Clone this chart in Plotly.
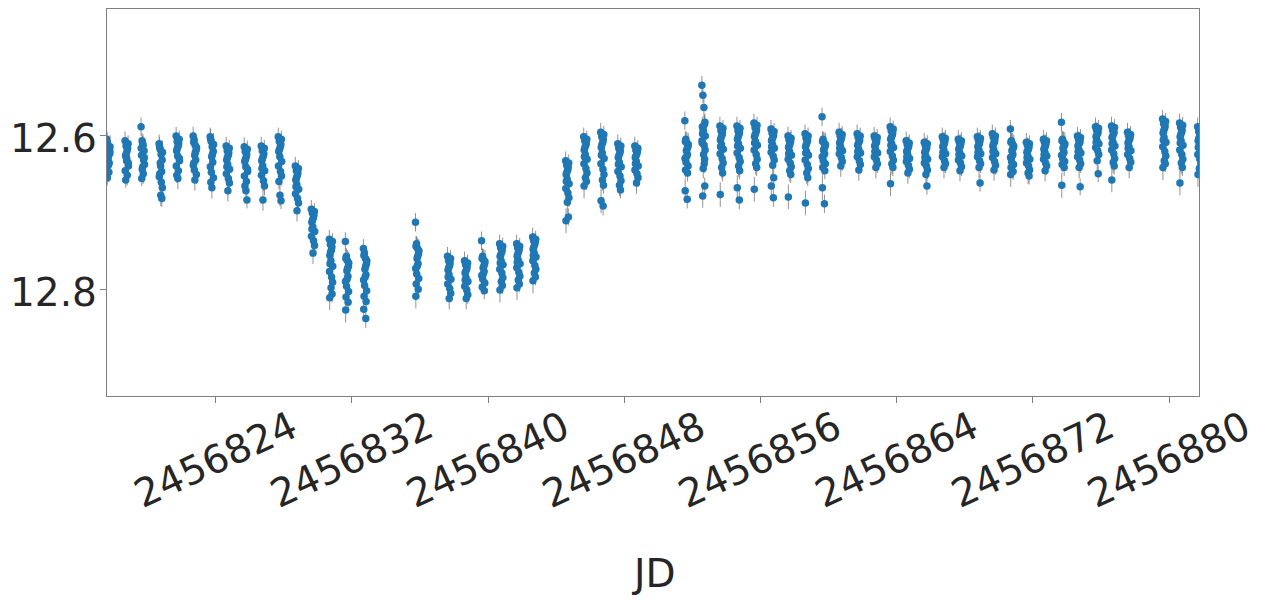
import plotly.graph_objects as go

# ---------------- data ----------------
NIGHT_JD = [
    2456817.70, 2456818.78, 2456819.72, 2456820.78, 2456821.78, 2456822.78,
    2456823.78, 2456824.72, 2456825.78, 2456826.78, 2456827.78, 2456828.78,
    2456829.72, 2456830.78, 2456831.72, 2456832.78, 2456835.84, 2456837.72,
    2456838.72, 2456839.72, 2456840.78, 2456841.78, 2456842.72, 2456844.66,
    2456845.72, 2456846.72, 2456847.72, 2456848.72, 2456851.66, 2456852.66,
    2456853.72, 2456854.72, 2456855.72, 2456856.72, 2456857.72, 2456858.72,
    2456859.72, 2456860.72, 2456861.78, 2456862.78, 2456863.72, 2456864.66,
    2456865.72, 2456866.78, 2456867.72, 2456868.84, 2456869.72, 2456870.78,
    2456871.72, 2456872.72, 2456873.78, 2456874.72, 2456875.78, 2456876.72,
    2456877.66, 2456879.72, 2456880.72, 2456881.78,
]

NIGHT_MAGS = [
    [12.605, 12.612, 12.618, 12.624, 12.609, 12.630, 12.636, 12.615, 12.642, 12.627, 12.648, 12.621, 12.655, 12.639],
    [12.607, 12.614, 12.620, 12.611, 12.627, 12.633, 12.617, 12.640, 12.646, 12.624, 12.652, 12.636, 12.658, 12.630],
    [12.589, 12.607, 12.613, 12.620, 12.626, 12.610, 12.632, 12.638, 12.617, 12.644, 12.650, 12.629, 12.656, 12.641],
    [12.611, 12.618, 12.625, 12.632, 12.615, 12.640, 12.647, 12.622, 12.654, 12.636, 12.661, 12.668, 12.650, 12.678, 12.682],
    [12.601, 12.608, 12.614, 12.605, 12.620, 12.627, 12.611, 12.633, 12.640, 12.617, 12.646, 12.630, 12.652, 12.656],
    [12.601, 12.606, 12.613, 12.619, 12.609, 12.626, 12.632, 12.616, 12.639, 12.645, 12.622, 12.651, 12.636, 12.658],
    [12.602, 12.608, 12.615, 12.621, 12.605, 12.628, 12.635, 12.612, 12.641, 12.648, 12.625, 12.655, 12.661, 12.668],
    [12.614, 12.620, 12.626, 12.617, 12.632, 12.638, 12.623, 12.644, 12.650, 12.629, 12.656, 12.662, 12.641, 12.672],
    [12.615, 12.621, 12.628, 12.618, 12.634, 12.641, 12.625, 12.647, 12.653, 12.631, 12.660, 12.644, 12.666, 12.672, 12.684],
    [12.614, 12.620, 12.627, 12.617, 12.633, 12.640, 12.624, 12.646, 12.652, 12.630, 12.659, 12.666, 12.643, 12.684],
    [12.602, 12.608, 12.615, 12.605, 12.621, 12.628, 12.612, 12.634, 12.640, 12.618, 12.647, 12.653, 12.660, 12.678, 12.685],
    [12.640, 12.646, 12.652, 12.643, 12.658, 12.664, 12.649, 12.670, 12.676, 12.655, 12.682, 12.688, 12.667, 12.698],
    [12.696, 12.701, 12.707, 12.699, 12.713, 12.719, 12.704, 12.725, 12.731, 12.710, 12.737, 12.743, 12.722, 12.753],
    [12.735, 12.742, 12.749, 12.738, 12.756, 12.763, 12.745, 12.770, 12.777, 12.752, 12.784, 12.791, 12.767, 12.798, 12.806, 12.811],
    [12.738, 12.757, 12.763, 12.770, 12.760, 12.776, 12.783, 12.766, 12.790, 12.796, 12.773, 12.803, 12.810, 12.787, 12.817, 12.827],
    [12.747, 12.753, 12.760, 12.767, 12.756, 12.774, 12.781, 12.763, 12.788, 12.795, 12.770, 12.802, 12.809, 12.784, 12.816, 12.826, 12.838],
    [12.713, 12.741, 12.747, 12.754, 12.744, 12.760, 12.767, 12.750, 12.773, 12.780, 12.757, 12.786, 12.793, 12.770, 12.800, 12.809],
    [12.757, 12.763, 12.769, 12.760, 12.775, 12.781, 12.766, 12.787, 12.793, 12.772, 12.799, 12.805, 12.784, 12.812],
    [12.763, 12.768, 12.774, 12.766, 12.779, 12.785, 12.771, 12.790, 12.796, 12.777, 12.801, 12.807, 12.788, 12.812],
    [12.737, 12.757, 12.762, 12.767, 12.760, 12.772, 12.777, 12.764, 12.782, 12.787, 12.770, 12.792, 12.797, 12.780, 12.802],
    [12.741, 12.746, 12.752, 12.744, 12.757, 12.763, 12.749, 12.768, 12.774, 12.755, 12.779, 12.785, 12.766, 12.790, 12.795, 12.801],
    [12.741, 12.746, 12.751, 12.744, 12.757, 12.762, 12.748, 12.767, 12.772, 12.754, 12.778, 12.783, 12.765, 12.788, 12.793, 12.798],
    [12.732, 12.737, 12.742, 12.735, 12.748, 12.753, 12.739, 12.758, 12.763, 12.745, 12.769, 12.774, 12.756, 12.779, 12.784, 12.789],
    [12.633, 12.639, 12.645, 12.636, 12.651, 12.657, 12.642, 12.663, 12.669, 12.648, 12.675, 12.681, 12.660, 12.687, 12.706, 12.711],
    [12.602, 12.607, 12.613, 12.605, 12.619, 12.625, 12.610, 12.631, 12.637, 12.616, 12.643, 12.649, 12.628, 12.655, 12.660, 12.666],
    [12.596, 12.602, 12.609, 12.599, 12.616, 12.623, 12.605, 12.630, 12.637, 12.612, 12.644, 12.651, 12.626, 12.658, 12.665, 12.685, 12.692],
    [12.611, 12.617, 12.623, 12.614, 12.629, 12.635, 12.620, 12.641, 12.647, 12.626, 12.653, 12.659, 12.638, 12.665, 12.671],
    [12.614, 12.619, 12.624, 12.617, 12.629, 12.634, 12.621, 12.640, 12.645, 12.627, 12.650, 12.655, 12.637, 12.662],
    [12.581, 12.605, 12.610, 12.615, 12.608, 12.620, 12.625, 12.612, 12.630, 12.635, 12.618, 12.640, 12.645, 12.628, 12.649, 12.672, 12.683],
    [12.535, 12.548, 12.564, 12.583, 12.589, 12.595, 12.586, 12.601, 12.607, 12.592, 12.613, 12.619, 12.598, 12.625, 12.631, 12.610, 12.637, 12.643, 12.666, 12.679],
    [12.588, 12.594, 12.600, 12.591, 12.606, 12.612, 12.597, 12.618, 12.624, 12.603, 12.630, 12.636, 12.615, 12.642, 12.649, 12.677],
    [12.588, 12.594, 12.599, 12.591, 12.605, 12.611, 12.596, 12.617, 12.623, 12.602, 12.629, 12.634, 12.614, 12.640, 12.646, 12.668, 12.684],
    [12.584, 12.590, 12.596, 12.587, 12.602, 12.608, 12.593, 12.613, 12.619, 12.599, 12.625, 12.631, 12.610, 12.637, 12.642, 12.670],
    [12.592, 12.597, 12.602, 12.595, 12.607, 12.612, 12.600, 12.617, 12.622, 12.605, 12.627, 12.632, 12.615, 12.639, 12.655, 12.666, 12.681],
    [12.601, 12.606, 12.611, 12.604, 12.616, 12.621, 12.608, 12.626, 12.631, 12.614, 12.636, 12.641, 12.624, 12.646, 12.651, 12.680],
    [12.598, 12.604, 12.609, 12.601, 12.615, 12.621, 12.606, 12.626, 12.632, 12.612, 12.638, 12.643, 12.623, 12.649, 12.655, 12.688],
    [12.576, 12.605, 12.610, 12.614, 12.608, 12.619, 12.624, 12.612, 12.628, 12.633, 12.617, 12.637, 12.642, 12.626, 12.646, 12.668, 12.689],
    [12.596, 12.601, 12.605, 12.599, 12.610, 12.615, 12.603, 12.620, 12.624, 12.608, 12.629, 12.634, 12.617, 12.640],
    [12.598, 12.603, 12.608, 12.601, 12.613, 12.618, 12.606, 12.623, 12.628, 12.611, 12.633, 12.638, 12.621, 12.645],
    [12.601, 12.605, 12.610, 12.603, 12.614, 12.619, 12.608, 12.623, 12.628, 12.612, 12.632, 12.637, 12.621, 12.642],
    [12.589, 12.594, 12.600, 12.592, 12.605, 12.611, 12.597, 12.616, 12.621, 12.603, 12.627, 12.632, 12.613, 12.637, 12.642, 12.663],
    [12.607, 12.612, 12.616, 12.610, 12.621, 12.625, 12.614, 12.630, 12.634, 12.619, 12.639, 12.644, 12.628, 12.649],
    [12.609, 12.613, 12.618, 12.611, 12.622, 12.627, 12.616, 12.631, 12.636, 12.620, 12.640, 12.645, 12.629, 12.651, 12.666],
    [12.602, 12.606, 12.611, 12.604, 12.615, 12.619, 12.608, 12.624, 12.628, 12.613, 12.633, 12.637, 12.622, 12.642],
    [12.605, 12.609, 12.614, 12.607, 12.618, 12.623, 12.611, 12.627, 12.632, 12.616, 12.636, 12.641, 12.625, 12.646],
    [12.602, 12.606, 12.611, 12.604, 12.615, 12.619, 12.608, 12.624, 12.628, 12.613, 12.633, 12.637, 12.622, 12.642, 12.662],
    [12.598, 12.603, 12.609, 12.601, 12.614, 12.619, 12.606, 12.624, 12.629, 12.611, 12.634, 12.639, 12.621, 12.645],
    [12.592, 12.607, 12.611, 12.616, 12.609, 12.620, 12.625, 12.614, 12.629, 12.634, 12.618, 12.638, 12.642, 12.627, 12.647, 12.651],
    [12.609, 12.613, 12.618, 12.611, 12.622, 12.627, 12.616, 12.631, 12.636, 12.620, 12.640, 12.645, 12.629, 12.649, 12.653],
    [12.605, 12.609, 12.614, 12.607, 12.618, 12.622, 12.611, 12.627, 12.631, 12.616, 12.636, 12.640, 12.625, 12.646],
    [12.583, 12.605, 12.609, 12.613, 12.607, 12.617, 12.622, 12.611, 12.626, 12.630, 12.615, 12.634, 12.638, 12.624, 12.642, 12.665],
    [12.601, 12.605, 12.610, 12.603, 12.614, 12.619, 12.608, 12.623, 12.628, 12.612, 12.632, 12.637, 12.621, 12.642, 12.667],
    [12.589, 12.593, 12.598, 12.591, 12.602, 12.607, 12.596, 12.611, 12.616, 12.600, 12.620, 12.625, 12.609, 12.633, 12.650],
    [12.588, 12.593, 12.598, 12.590, 12.603, 12.609, 12.596, 12.614, 12.619, 12.601, 12.624, 12.630, 12.611, 12.635, 12.640, 12.658],
    [12.596, 12.601, 12.605, 12.599, 12.610, 12.615, 12.603, 12.620, 12.625, 12.608, 12.630, 12.635, 12.617, 12.642],
    [12.579, 12.585, 12.591, 12.582, 12.597, 12.603, 12.588, 12.609, 12.615, 12.594, 12.621, 12.627, 12.606, 12.633, 12.637, 12.642],
    [12.584, 12.590, 12.596, 12.587, 12.602, 12.607, 12.593, 12.613, 12.619, 12.599, 12.625, 12.631, 12.610, 12.636, 12.642, 12.662],
    [12.589, 12.595, 12.601, 12.592, 12.607, 12.613, 12.598, 12.619, 12.625, 12.604, 12.631, 12.637, 12.616, 12.643, 12.647, 12.651],
]

# time offsets of successive exposures within one night (days)
DT = [-0.10, -0.04, 0.02, 0.08, -0.07, -0.01, 0.05, 0.10, -0.09, -0.03,
      0.03, 0.09, -0.06, 0.00, 0.06, -0.08, 0.04, -0.02, 0.07, -0.05]
# photometric errors (mag) of successive exposures
ERR = [0.012, 0.010, 0.014, 0.011, 0.013, 0.009, 0.012, 0.015, 0.010, 0.011,
       0.013, 0.012, 0.010, 0.014, 0.011, 0.016, 0.012, 0.013, 0.011, 0.015]

X_TICKS = [2456824, 2456832, 2456840, 2456848, 2456856, 2456864, 2456872, 2456880]
X_TICK_LABELS = ["2456824", "2456832", "2456840", "2456848",
                 "2456856", "2456864", "2456872", "2456880"]
Y_TICKS = [12.6, 12.8]
Y_TICK_LABELS = ["12.6", "12.8"]
X_TITLE = "JD"

# ---------------- build ----------------
xs, ys, es = [], [], []
for jd, mags in zip(NIGHT_JD, NIGHT_MAGS):
    for i, m in enumerate(mags):
        xs.append(jd + DT[i])
        ys.append(m)
        es.append(ERR[i])

FONT = "DejaVu Sans"
TXT = "#262626"
SPINE = "#7f7f7f"

# the page body has an 8px margin, so the figure is drawn 8px in from the window corner
OFF = 8
PLOT_X0, PLOT_X1 = 107, 1199     # window pixels of the axes box
PLOT_Y0, PLOT_Y1 = 9, 396
W, H = 1269 - OFF, 600 - OFF
L = PLOT_X0 - OFF
T = PLOT_Y0 - OFF
plot_w = PLOT_X1 - PLOT_X0
plot_h = PLOT_Y1 - PLOT_Y0
R = W - L - plot_w
B = H - T - plot_h

fig = go.Figure()
fig.add_trace(go.Scatter(
    x=xs, y=ys, mode="markers",
    marker=dict(color="#1f77b4", size=7.5, line=dict(width=0)),
    error_y=dict(type="data", array=es, visible=True,
                 color="rgba(110,110,110,0.75)", thickness=1, width=0),
    showlegend=False, hoverinfo="x+y",
))

fig.update_layout(
    width=W, height=H,
    margin=dict(l=L, r=R, t=T, b=B, pad=0, autoexpand=False),
    paper_bgcolor="white", plot_bgcolor="white",
    font=dict(family=FONT, color=TXT, size=39),
    xaxis=dict(range=[2456817.62, 2456881.76], tickmode="array",
               tickvals=X_TICKS, showticklabels=False, automargin=False,
               ticks="outside", ticklen=6, tickwidth=1.2, tickcolor=SPINE,
               showline=True, linecolor=SPINE, linewidth=1.3, mirror=True,
               showgrid=False, zeroline=False),
    yaxis=dict(range=[12.9386, 12.436], tickmode="array",
               tickvals=Y_TICKS, showticklabels=False, automargin=False,
               ticks="outside", ticklen=6, tickwidth=1.2, tickcolor=SPINE,
               showline=True, linecolor=SPINE, linewidth=1.3, mirror=True,
               showgrid=False, zeroline=False),
)

# x tick labels, rotated 25 degrees and centred under their ticks
for v, lab in zip(X_TICKS, X_TICK_LABELS):
    fig.add_annotation(x=v, xref="x", y=-(460 - PLOT_Y1) / plot_h, yref="paper",
                       text=lab, showarrow=False, textangle=-25,
                       xanchor="center", yanchor="middle",
                       font=dict(family=FONT, size=39, color=TXT))

# y tick labels
for v, lab in zip(Y_TICKS, Y_TICK_LABELS):
    fig.add_annotation(x=-(PLOT_X0 - 99) / plot_w, xref="paper", y=v, yref="y",
                       text=lab, showarrow=False, xanchor="right", yanchor="middle",
                       yshift=-3, font=dict(family=FONT, size=39, color=TXT))

fig.add_annotation(x=0.5, xref="paper", y=-(573 - PLOT_Y1) / plot_h, yref="paper",
                   text=X_TITLE, showarrow=False, xanchor="center", yanchor="middle",
                   font=dict(family=FONT, size=39, color=TXT))

fig.write_html("out.html")
